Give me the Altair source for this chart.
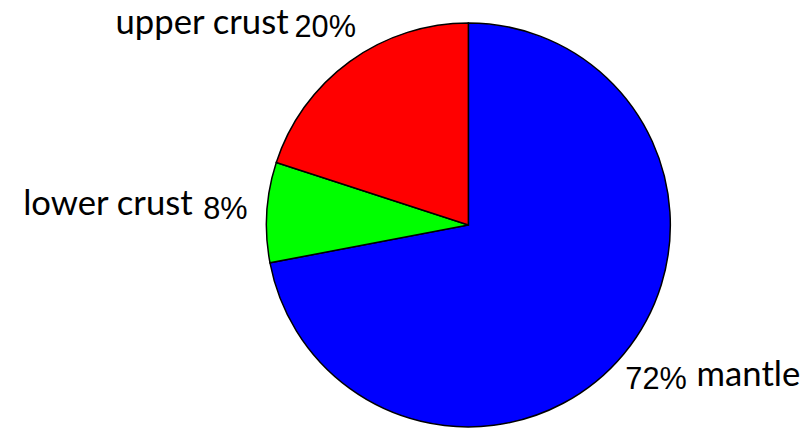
import altair as alt
import pandas as pd

categories = ["mantle", "lower crust", "upper crust"]
values = [72, 8, 20]
labels = ["72%", "8%", "20%"]
colors = ["#0000FF", "#00FF00", "#FF0000"]
order = [0, 1, 2]

df = pd.DataFrame({"category": categories, "value": values, "label": labels, "idx": order})

CX, CY, R, LR = 465, 217, 204, 246

theta_scale = alt.Scale(domain=[0, 100], zero=True, nice=False)

base = alt.Chart(df).transform_stack(
    stack="value", groupby=[], as_=["start", "end"], sort=[alt.SortField("idx", order="ascending")]
).transform_calculate(mid="(datum.start + datum.end) / 2")

pie = base.mark_arc(stroke="black", strokeWidth=1.5).encode(
    theta=alt.Theta("start:Q", scale=theta_scale),
    theta2="end:Q",
    color=alt.Color("category:N", scale=alt.Scale(domain=categories, range=colors), legend=None),
    x=alt.value(CX), y=alt.value(CY), radius=alt.value(R),
)

pct = base.mark_text(font="Liberation Sans", fontSize=31, align="center", baseline="middle", color="black").encode(
    theta=alt.Theta("mid:Q", scale=theta_scale),
    text="label:N", x=alt.value(CX), y=alt.value(CY), radius=alt.value(LR),
)

def name_layer(cat, align, dx, dy):
    return base.transform_filter(alt.datum.category == cat).mark_text(
        font="Lato", fontSize=35, align=align, baseline="alphabetic", dx=dx, dy=dy, color="black"
    ).encode(
        theta=alt.Theta("mid:Q", scale=theta_scale),
        text="category:N", x=alt.value(CX), y=alt.value(CY), radius=alt.value(LR),
    )

names = [
    name_layer("upper crust", "right", -37, 6),
    name_layer("lower crust", "right", -33, 5),
    name_layer("mantle", "left", 41, 6),
]

chart = alt.layer(pie, pct, *names).properties(
    width=803, height=424, autosize=alt.AutoSizeParams(type="none"), padding=0
).configure_view(stroke=None)

chart.save("out.html", embed_options={"renderer": "svg", "actions": False})
